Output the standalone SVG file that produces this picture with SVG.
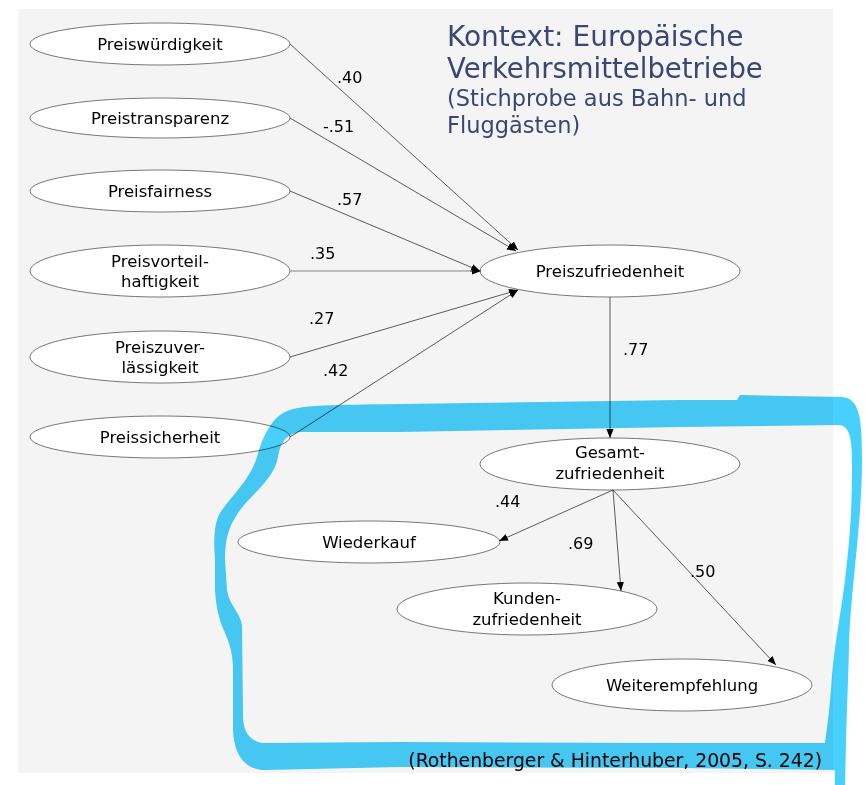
<svg xmlns="http://www.w3.org/2000/svg" width="865" height="785" viewBox="0 0 865 785">
<defs>
<style>
.node ellipse{fill:#fff;stroke:#555;stroke-width:0.8}
.lbl{font-family:"DejaVu Sans",Verdana,sans-serif;font-size:16.5px;fill:#000;text-anchor:middle}
.el{font-family:"DejaVu Sans",Verdana,sans-serif;font-size:16px;fill:#000}
.edge{stroke:#333;stroke-width:0.8;fill:none;marker-end:url(#ah)}
.title{font-family:"DejaVu Sans",Verdana,sans-serif;fill:#3c4674}
</style>
<marker id="ah" viewBox="0 0 10 10" refX="10" refY="5" markerWidth="9" markerHeight="9" markerUnits="userSpaceOnUse" orient="auto">
<path d="M0,1 L10,5 L0,9 z" fill="#000"/>
</marker>
</defs>
<rect x="0" y="0" width="865" height="785" fill="#fff"/>
<rect x="18" y="9" width="815" height="764" fill="#f4f4f4"/>

<g id="title">
<text class="title" x="447" y="46" font-size="28">Kontext: Europäische</text>
<text class="title" x="447" y="78" font-size="27.5">Verkehrsmittelbetriebe</text>
<text class="title" x="447" y="106" font-size="22.5">(Stichprobe aus Bahn- und</text>
<text class="title" x="447" y="133" font-size="22.5">Fluggästen)</text>
</g>

<g id="n-preiswuerdigkeit" class="node"><ellipse cx="160" cy="44" rx="130" ry="21"/><text class="lbl" x="160" y="50">Preiswürdigkeit</text></g>
<g id="n-preistransparenz" class="node"><ellipse cx="160" cy="118" rx="130" ry="20"/><text class="lbl" x="160" y="124">Preistransparenz</text></g>
<g id="n-preisfairness" class="node"><ellipse cx="160" cy="191" rx="130" ry="21"/><text class="lbl" x="160" y="197">Preisfairness</text></g>
<g id="n-preisvorteil" class="node"><ellipse cx="160" cy="271" rx="130" ry="26"/><text class="lbl" x="160" y="267">Preisvorteil-</text><text class="lbl" x="160" y="287">haftigkeit</text></g>
<g id="n-preiszuver" class="node"><ellipse cx="160" cy="357" rx="130" ry="26"/><text class="lbl" x="160" y="353">Preiszuver-</text><text class="lbl" x="160" y="373">lässigkeit</text></g>
<g id="n-preissicherheit" class="node"><ellipse cx="160" cy="437" rx="130" ry="21"/><text class="lbl" x="160" y="443">Preissicherheit</text></g>
<g id="n-preiszufriedenheit" class="node"><ellipse cx="610" cy="271" rx="130" ry="26"/><text class="lbl" x="610" y="277">Preiszufriedenheit</text></g>
<g id="n-gesamt" class="node"><ellipse cx="610" cy="464" rx="130" ry="26"/><text class="lbl" x="610" y="458">Gesamt-</text><text class="lbl" x="610" y="479">zufriedenheit</text></g>
<g id="n-wiederkauf" class="node"><ellipse cx="369" cy="542" rx="131" ry="21"/><text class="lbl" x="369" y="548">Wiederkauf</text></g>
<g id="n-kunden" class="node"><ellipse cx="527" cy="609" rx="130" ry="26"/><text class="lbl" x="527" y="604">Kunden-</text><text class="lbl" x="527" y="625">zufriedenheit</text></g>
<g id="n-weiter" class="node"><ellipse cx="682" cy="685" rx="130" ry="26"/><text class="lbl" x="682" y="691">Weiterempfehlung</text></g>

<g id="connectors">
<line class="edge" x1="290" y1="44" x2="518" y2="250"/>
<line class="edge" x1="290" y1="118" x2="516" y2="251"/>
<line class="edge" x1="290" y1="191" x2="480" y2="271"/>
<line x1="290" y1="271" x2="480" y2="271" stroke="#aaa" stroke-width="1.4"/>
<line class="edge" x1="470" y1="271" x2="481" y2="271"/>
<line class="edge" x1="290" y1="357" x2="518" y2="290"/>
<line class="edge" x1="290" y1="437" x2="518" y2="290"/>
<line class="edge" x1="610" y1="297" x2="610" y2="438"/>
<line class="edge" x1="613" y1="490" x2="499" y2="541"/>
<line class="edge" x1="613" y1="490" x2="621" y2="591"/>
<line class="edge" x1="613" y1="490" x2="776" y2="665"/>
<text class="el" x="337" y="83">.40</text>
<text class="el" x="323" y="132">-.51</text>
<text class="el" x="337" y="205">.57</text>
<text class="el" x="310" y="259">.35</text>
<text class="el" x="309" y="324">.27</text>
<text class="el" x="323" y="376">.42</text>
<text class="el" x="623" y="355">.77</text>
<text class="el" x="495" y="507">.44</text>
<text class="el" x="568" y="549">.69</text>
<text class="el" x="690" y="577">.50</text>
</g>

<text id="citation" x="822" y="767" font-family="DejaVu Sans,Verdana,sans-serif" font-size="18.8" text-anchor="end" fill="#000">(Rothenberger &amp; Hinterhuber, 2005, S. 242)</text>

<g id="highlight" style="mix-blend-mode:multiply">
<path fill="#48d0fc" fill-rule="evenodd" d="M835,785 L845,785 L846,745 C847,700 849,665 849,640 C852,580 862,520 862,460 C862,420 860,398 842,397 L740,395 L737,400 L680,400 L400,404 C330,405 305,405 290,410 C272,415 262,438 257,457 C250,480 232,495 220,513 C213,525 214,545 215,560 L215,590 C216,605 218,615 222,626 C228,640 233,650 233,670 L233,730 C234,755 245,770 265,770 L400,767 L680,768 L835,770 Z M300,432 L400,432 L680,427 L840,425 C850,427 852,440 852,463 C852,500 851,530 845,580 C840,620 833,650 831,690 C829,715 826,735 825,743 L680,743 L400,742 L262,743 C248,740 243,730 243,715 L242,625 C240,612 229,605 227,590 L225,560 C225,540 228,528 238,513 C250,495 274,480 278,457 C280,445 285,434 300,432 Z"/>
</g>
</svg>
